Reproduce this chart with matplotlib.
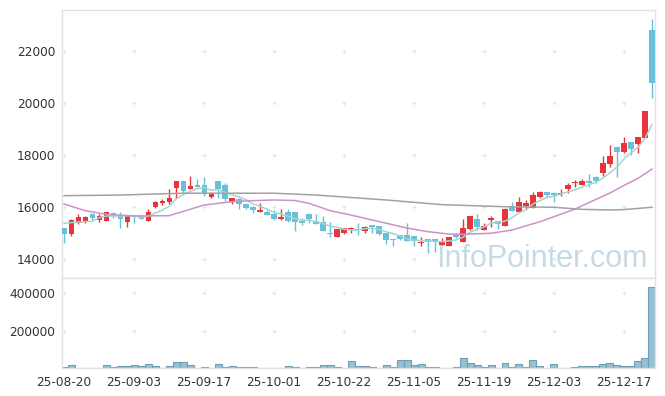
import matplotlib
matplotlib.use("Agg")
import matplotlib.pyplot as plt
import numpy as np
import pandas as pd

# daily candles, 25-08-20 .. 25-12-23
opens = [15180, 14970, 15390, 15430, 15740, 15500, 15470, 15770, 15690, 15410,
         15630, 15620, 15470, 15990, 16150, 16200, 16730, 17000, 16700, 16860,
         16850, 16370, 17000, 16850, 16190, 16310, 16120, 16010, 15820, 15810,
         15740, 15540, 15810, 15810, 15460, 15730, 15450, 15410, 14990, 14830,
         14990, 15140, 15140, 15090, 15320, 15270, 15010, 14770, 14910, 14920,
         14880, 14600, 14760, 14760, 14540, 14510, 14920, 14670, 15150, 15540,
         15120, 15490, 15450, 15280, 16000, 15820, 16040, 15950, 16400, 16580,
         16540, 16490, 16680, 16920, 16860, 17000, 17140, 17300, 17650, 18310,
         18130, 18500, 18420, 18670, 22810]
highs = [15200, 15550, 15730, 15650, 15760, 15720, 15820, 15820, 15800, 15700,
         15650, 15680, 15910, 16240, 16310, 16680, 17000, 17000, 17190, 17070,
         17140, 16590, 17000, 16920, 16360, 16330, 16150, 16030, 16140, 15900,
         15870, 15910, 15920, 15820, 15580, 15750, 15730, 15650, 15410, 15150,
         15200, 15230, 15370, 15280, 15320, 15270, 15010, 14770, 14920, 15400,
         14880, 14830, 14760, 14760, 14800, 14830, 14990, 15530, 15650, 15730,
         15380, 15670, 15450, 15970, 16200, 16400, 16280, 16560, 16600, 16580,
         16560, 16690, 16910, 17040, 17060, 17250, 17210, 17970, 18370, 18310,
         18700, 18500, 18690, 19700, 23220]
lows = [14600, 14880, 15360, 15400, 15500, 15410, 15450, 15560, 15180, 15220,
        15400, 15520, 15450, 15960, 16080, 16120, 16330, 16490, 16680, 16760,
        16430, 16340, 16330, 16240, 16130, 15940, 15920, 15760, 15820, 15680,
        15510, 15500, 15420, 15090, 15310, 15370, 15360, 15090, 14830, 14830,
        14960, 14990, 14920, 14990, 14990, 14920, 14570, 14510, 14730, 14690,
        14510, 14510, 14240, 14280, 14530, 14510, 14800, 14670, 15110, 15120,
        15120, 15240, 15140, 15280, 15860, 15820, 15920, 15950, 16360, 16380,
        16180, 16420, 16530, 16760, 16830, 16780, 16920, 17200, 17550, 17170,
        18070, 18000, 18070, 18670, 20180]
closes = [14960, 15490, 15610, 15610, 15590, 15640, 15800, 15650, 15550, 15690,
          15600, 15550, 15810, 16190, 16220, 16330, 16990, 16630, 16810, 16780,
          16490, 16530, 16690, 16300, 16330, 16100, 15980, 15870, 15900, 15700,
          15540, 15630, 15460, 15440, 15380, 15540, 15360, 15090, 14950, 15150,
          15180, 15180, 15100, 15230, 15220, 14960, 14730, 14740, 14770, 14690,
          14690, 14640, 14670, 14690, 14640, 14830, 14830, 15200, 15650, 15230,
          15250, 15570, 15330, 15910, 15860, 16200, 16140, 16460, 16580, 16450,
          16470, 16550, 16850, 16970, 17000, 16920, 17010, 17680, 17960, 18130,
          18450, 18220, 18690, 19700, 20780]
volumes = [7000, 18000, 2000, 2000, 2000, 2000, 18000, 7000, 12000, 12000,
           18000, 12000, 23000, 12000, 2000, 12000, 30000, 30000, 18000, 2000,
           7000, 2000, 23000, 7000, 12000, 7000, 7000, 7000, 2000, 2000,
           2000, 2000, 12000, 7000, 2000, 7000, 7000, 18000, 18000, 7000,
           2000, 39000, 12000, 12000, 7000, 2000, 18000, 7000, 45000, 45000,
           18000, 23000, 7000, 7000, 2000, 2000, 7000, 55000, 28000, 18000,
           7000, 18000, 2000, 28000, 7000, 23000, 7000, 45000, 12000, 2000,
           23000, 2000, 2000, 7000, 12000, 12000, 12000, 23000, 28000, 18000,
           12000, 12000, 39000, 55000, 435000]
prior_closes = [15340, 15500, 15550, 15500]  # closes before the window, for MA5

# moving averages (candle index, value)
ma20_idx = [0, 3, 6, 10, 15, 18, 20, 24, 27, 30, 33, 35, 38, 41, 45, 49, 52, 55,
            57, 61, 64, 68, 73, 78, 80, 82, 84]
ma20_val = [16115, 15860, 15720, 15655, 15665, 15910, 16075, 16205, 16245, 16270,
            16250, 16140, 15860, 15690, 15440, 15190, 15050, 14960, 14950, 14990,
            15115, 15435, 15920, 16540, 16830, 17100, 17460]
ma60_idx = [0, 8, 17, 27, 30, 36, 46, 54, 63, 70, 74, 78, 80, 84]
ma60_val = [16435, 16460, 16530, 16530, 16530, 16460, 16270, 16090, 16010, 15990,
            15910, 15885, 15900, 15990]

tick_idx = [0, 10, 20, 30, 40, 50, 60, 70, 80]
tick_labels = ["25-08-20", "25-09-03", "25-09-17", "25-10-01", "25-10-22",
               "25-11-05", "25-11-19", "25-12-03", "25-12-17"]

RED = "#e8353b"
BLUE = "#68c1da"
GRID = "#e3e3e3"
SPINE = "#e2e2e2"

plt.rcParams["font.family"] = "DejaVu Sans"

x = np.arange(len(closes))
o = np.array(opens)
c = np.array(closes)
colors = [RED if cc >= oo else BLUE for oo, cc in zip(o, c)]

ma5 = pd.Series(prior_closes + closes).rolling(5).mean().to_numpy()[len(prior_closes):]

fig = plt.figure(figsize=(6.65, 3.96), dpi=100)
ax = fig.add_axes([62 / 665, 1 - 278 / 396, 593 / 665, 268 / 396])
axv = fig.add_axes([62 / 665, 1 - 368 / 396, 593 / 665, 90 / 396], sharex=ax)

# watermark
ax.text(0.988, 0.041, "InfoPointer.com", transform=ax.transAxes, ha="right",
        va="baseline", fontsize=22, family="Liberation Sans", color="#c6dae5",
        zorder=0)

# candles
ax.vlines(x, lows, highs, colors=colors, linewidth=1.0, zorder=2)
body = np.maximum(np.abs(c - o), 35)
ax.bar(x, body, bottom=np.minimum(o, c), width=0.72, color=colors,
       linewidth=0, zorder=3)

ax.plot(x, ma5, color="#a3d6cc", lw=1.1, zorder=4)
ax.plot(ma20_idx, ma20_val, color="#cf90c8", lw=1.1, zorder=4)
ax.plot(ma60_idx, ma60_val, color="#a2a2a2", lw=1.1, zorder=4)

# volume
axv.bar(x, volumes, width=1.0, color="#97c0d2", edgecolor="#6f9fb6",
        linewidth=0.8, zorder=2)

ax.set_xlim(-0.29, 84.43)
ax.set_ylim(13269, 23577)
axv.set_ylim(0, 482000)

ax.set_yticks([14000, 16000, 18000, 20000, 22000])
axv.set_yticks([200000, 400000])
axv.set_xticks(tick_idx)
axv.set_xticklabels(tick_labels)

for a in (ax, axv):
    a.tick_params(length=0, labelsize=8.7, colors="#333333", pad=5)
    for s in a.spines.values():
        s.set_color(SPINE)
        s.set_linewidth(1.0)
    a.set_facecolor("white")
ax.tick_params(axis="x", labelbottom=False)
axv.tick_params(axis="x", pad=6)

# "+" grid marks at tick crossings
gx, gy = np.meshgrid(tick_idx, ax.get_yticks())
ax.scatter(gx.ravel(), gy.ravel(), marker="+", s=10, color=GRID, lw=0.7, zorder=1)
gx, gy = np.meshgrid(tick_idx, axv.get_yticks())
axv.scatter(gx.ravel(), gy.ravel(), marker="+", s=10, color=GRID, lw=0.7, zorder=1)

fig.savefig("out.png", dpi=100)
